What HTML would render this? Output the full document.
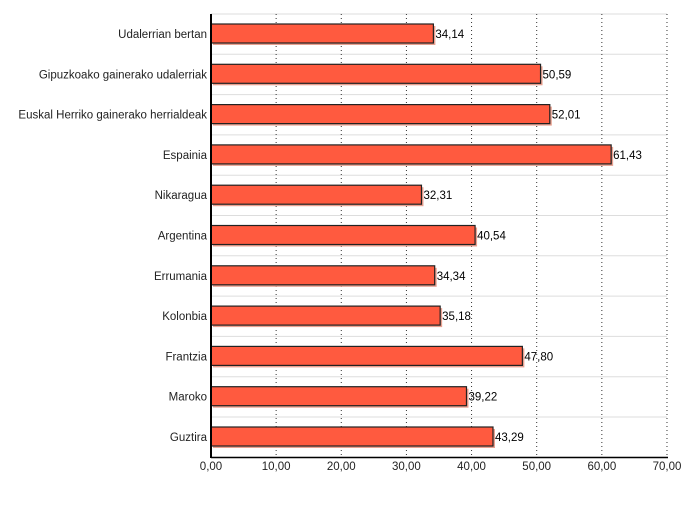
<!DOCTYPE html><html><head><style>body{margin:0;background:#fff}</style></head><body>
<svg id="sv" width="700" height="500" xmlns="http://www.w3.org/2000/svg" font-family="Liberation Sans, sans-serif" font-size="11.5">
</svg>
<script>
(function(){
var d=[["Udalerrian bertan",34.14],["Gipuzkoako gainerako udalerriak",50.59],["Euskal Herriko gainerako herrialdeak",52.01],["Espainia",61.43],["Nikaragua",32.31],["Argentina",40.54],["Errumania",34.34],["Kolonbia",35.18],["Frantzia",47.80],["Maroko",39.22],["Guztira",43.29]];
var x0=211,k=6.514,t0=14,rh=40.3,s='';
for(var i=0;i<=11;i++){var y=t0+rh*i;s+='<line x1="'+x0+'" x2="667" y1="'+y+'" y2="'+y+'" stroke="#ddd"/>';}
for(var v=10;v<=70;v+=10){var x=x0+v*k;s+='<line x1="'+x+'" x2="'+x+'" y1="'+t0+'" y2="457" stroke="#333" stroke-dasharray="1,3"/>';}
d.forEach(function(r,i){var y=t0+rh*i+10,w=r[1]*k;
s+='<rect x="'+(x0+2)+'" y="'+(y+2)+'" width="'+w+'" height="19" fill="#e8a090"/>';
s+='<rect x="'+x0+'" y="'+y+'" width="'+w+'" height="19" fill="#ff5a3f" stroke="#222" stroke-width="1.2"/>';
s+='<text x="'+(x0+w+2)+'" y="'+(y+14)+'" fill="#000">'+r[1].toFixed(2).replace('.',',')+'</text>';
s+='<text x="207" y="'+(y+14)+'" text-anchor="end" fill="#222">'+r[0]+'</text>';});
s+='<line x1="'+x0+'" x2="'+x0+'" y1="'+t0+'" y2="458" stroke="#000" stroke-width="2"/>';
s+='<line x1="'+x0+'" x2="668" y1="457.5" y2="457.5" stroke="#000" stroke-width="1.5"/>';
for(var v2=0;v2<=70;v2+=10){var xx=x0+v2*k;s+='<text x="'+xx+'" y="470" text-anchor="middle" fill="#222">'+v2+',00</text>';}
document.getElementById('sv').innerHTML=s;
})();
</script>
</body></html>
